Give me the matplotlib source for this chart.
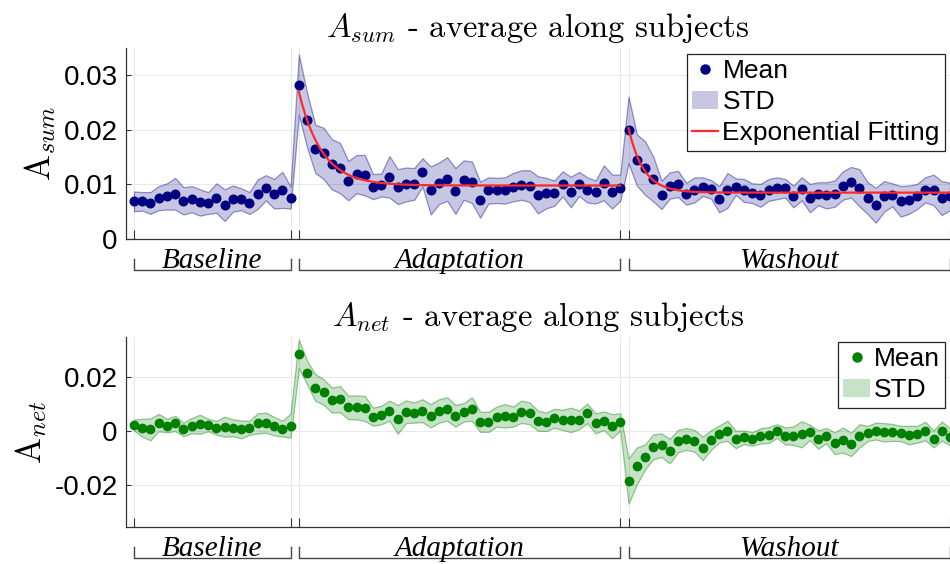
import numpy as np
import matplotlib
matplotlib.use("Agg")
import matplotlib.pyplot as plt
import matplotlib.transforms as mtransforms
from matplotlib.patches import Patch
from matplotlib.lines import Line2D

plt.rcParams['mathtext.fontset'] = 'cm'
plt.rcParams['axes.unicode_minus'] = False
plt.rcParams['font.family'] = ['Liberation Sans', 'DejaVu Sans']

# --- Data ---------------------------------------------------------------------
sections = ["Baseline", "Adaptation", "Washout"]
section_len = [20, 40, 40]

asum_mean = [
    # baseline
    0.0069, 0.0069, 0.0066, 0.0075, 0.0078, 0.0083, 0.0070, 0.0073, 0.0067, 0.0066,
    0.0075, 0.0062, 0.0074, 0.0073, 0.0066, 0.0082, 0.0094, 0.0083, 0.0090, 0.0076,
    # adaptation
    0.0283, 0.0218, 0.0165, 0.0157, 0.0137, 0.0130, 0.0107, 0.0119, 0.0117, 0.0096,
    0.0099, 0.0114, 0.0096, 0.0100, 0.0101, 0.0122, 0.0089, 0.0102, 0.0110, 0.0088,
    0.0108, 0.0104, 0.0072, 0.0089, 0.0089, 0.0089, 0.0095, 0.0099, 0.0097, 0.0081,
    0.0084, 0.0084, 0.0101, 0.0086, 0.0101, 0.0090, 0.0086, 0.0103, 0.0087, 0.0094,
    # washout
    0.0200, 0.0145, 0.0130, 0.0110, 0.0081, 0.0098, 0.0101, 0.0083, 0.0090, 0.0096,
    0.0091, 0.0073, 0.0089, 0.0096, 0.0089, 0.0084, 0.0080, 0.0090, 0.0093, 0.0093,
    0.0078, 0.0092, 0.0075, 0.0083, 0.0080, 0.0083, 0.0098, 0.0104, 0.0094, 0.0075,
    0.0062, 0.0078, 0.0081, 0.0069, 0.0072, 0.0078, 0.0090, 0.0090, 0.0075, 0.0078,
]
asum_std = [
    0.0018, 0.0017, 0.0020, 0.0022, 0.0024, 0.0029, 0.0025, 0.0024, 0.0024, 0.0020,
    0.0027, 0.0029, 0.0024, 0.0020, 0.0020, 0.0027, 0.0023, 0.0027, 0.0033, 0.0020,
    0.0055, 0.0050, 0.0044, 0.0047, 0.0046, 0.0046, 0.0036, 0.0035, 0.0037, 0.0023,
    0.0021, 0.0038, 0.0032, 0.0031, 0.0029, 0.0026, 0.0044, 0.0038, 0.0040, 0.0042,
    0.0036, 0.0038, 0.0033, 0.0024, 0.0023, 0.0024, 0.0026, 0.0027, 0.0029, 0.0034,
    0.0028, 0.0023, 0.0023, 0.0028, 0.0022, 0.0023, 0.0021, 0.0032, 0.0031, 0.0024,
    0.0061, 0.0047, 0.0049, 0.0041, 0.0026, 0.0024, 0.0024, 0.0020, 0.0023, 0.0017,
    0.0017, 0.0024, 0.0032, 0.0015, 0.0021, 0.0018, 0.0021, 0.0020, 0.0020, 0.0017,
    0.0020, 0.0021, 0.0026, 0.0021, 0.0024, 0.0024, 0.0026, 0.0028, 0.0034, 0.0029,
    0.0032, 0.0028, 0.0021, 0.0028, 0.0026, 0.0023, 0.0023, 0.0028, 0.0031, 0.0025,
]

anet_mean = [
    0.0022, 0.0012, 0.0006, 0.0031, 0.0020, 0.0028, 0.0006, 0.0020, 0.0025, 0.0022,
    0.0012, 0.0016, 0.0012, 0.0006, 0.0012, 0.0028, 0.0031, 0.0018, 0.0009, 0.0020,
    0.0284, 0.0215, 0.0160, 0.0144, 0.0114, 0.0117, 0.0087, 0.0087, 0.0083, 0.0053,
    0.0059, 0.0075, 0.0043, 0.0071, 0.0068, 0.0075, 0.0056, 0.0074, 0.0081, 0.0056,
    0.0069, 0.0081, 0.0034, 0.0034, 0.0053, 0.0056, 0.0053, 0.0071, 0.0065, 0.0038,
    0.0034, 0.0047, 0.0041, 0.0041, 0.0041, 0.0065, 0.0028, 0.0038, 0.0018, 0.0034,
    -0.0184, -0.0129, -0.0095, -0.0058, -0.0052, -0.0074, -0.0037, -0.0029, -0.0036, -0.0064,
    -0.0033, -0.0011, 0.0001, -0.0031, -0.0023, -0.0029, -0.0018, -0.0015, 0.0000, -0.0018,
    -0.0017, -0.0012, -0.0005, -0.0031, -0.0017, -0.0045, -0.0033, -0.0049, -0.0018, -0.0009,
    0.0000, -0.0005, -0.0005, -0.0009, -0.0015, -0.0012, 0.0000, -0.0029, 0.0000, -0.0021,
]
anet_std = [
    0.0020, 0.0033, 0.0040, 0.0032, 0.0025, 0.0028, 0.0025, 0.0028, 0.0035, 0.0023,
    0.0025, 0.0037, 0.0031, 0.0033, 0.0026, 0.0037, 0.0037, 0.0034, 0.0029, 0.0044,
    0.0053, 0.0043, 0.0049, 0.0047, 0.0046, 0.0048, 0.0043, 0.0044, 0.0046, 0.0033,
    0.0034, 0.0037, 0.0053, 0.0042, 0.0037, 0.0042, 0.0043, 0.0043, 0.0043, 0.0040,
    0.0034, 0.0043, 0.0037, 0.0037, 0.0037, 0.0043, 0.0037, 0.0041, 0.0040, 0.0037,
    0.0034, 0.0035, 0.0037, 0.0045, 0.0034, 0.0036, 0.0037, 0.0034, 0.0044, 0.0031,
    0.0083, 0.0068, 0.0046, 0.0046, 0.0043, 0.0045, 0.0041, 0.0040, 0.0040, 0.0043,
    0.0036, 0.0031, 0.0037, 0.0032, 0.0025, 0.0025, 0.0028, 0.0029, 0.0025, 0.0031,
    0.0034, 0.0048, 0.0028, 0.0034, 0.0028, 0.0040, 0.0046, 0.0043, 0.0043, 0.0028,
    0.0031, 0.0034, 0.0031, 0.0028, 0.0034, 0.0031, 0.0034, 0.0031, 0.0035, 0.0031,
]

# exponential fit parameters (plateau, amplitude, rate per trial) for adaptation / washout
fit_adapt = (0.0098, 0.0172, 0.36)
fit_wash = (0.0085, 0.0118, 0.55)

asum_yticks = [0, 0.01, 0.02, 0.03]
anet_yticks = [-0.02, 0, 0.02]

# --- Helpers ------------------------------------------------------------------
trial = np.arange(1, sum(section_len) + 1)
starts = np.cumsum([0] + section_len[:-1]) + 1
ends = np.cumsum(section_len)


def style_axes(ax, yticks, ylim):
    ax.set_xlim(0.03, 99.7)
    ax.set_ylim(*ylim)
    xt = []
    for s, e in zip(starts, ends):
        xt += [s, e]
    ax.set_xticks(xt)
    ax.set_xticklabels([])
    ax.set_yticks(yticks)
    ax.set_yticklabels([f"{v:g}" for v in yticks])
    ax.tick_params(axis='x', direction='in', length=6.5, width=0.8, color='#333333')
    ax.tick_params(axis='y', direction='in', length=3.5, width=0.8, color='#333333',
                   labelsize=20, pad=6)
    ax.grid(True, color='#e8e8e8', linewidth=0.7)
    ax.set_axisbelow(True)
    for sp in ['top', 'right']:
        ax.spines[sp].set_visible(False)
    for sp in ['left', 'bottom']:
        ax.spines[sp].set_color('#333333')
        ax.spines[sp].set_linewidth(0.9)

    # section brackets below the axis
    trans = mtransforms.blended_transform_factory(ax.transData, ax.transAxes)
    for name, s, e in zip(sections, starts, ends):
        ax.plot([s, s, e, e], [-0.105, -0.163, -0.163, -0.105], transform=trans,
                color='#444444', linewidth=1.0, clip_on=False)
        ax.text((s + e) / 2, -0.152, name, transform=trans, ha='center', va='baseline',
                fontsize=21, fontfamily='Liberation Serif', fontstyle='italic')


def exp_fit(params, n):
    plateau, amp, rate = params
    return plateau + amp * np.exp(-rate * n)


fig = plt.figure(figsize=(9.5, 5.64), dpi=100)
ax1 = fig.add_axes([0.1326, 0.5762, 0.8674, 0.3387])
ax2 = fig.add_axes([0.1326, 0.0661, 0.8674, 0.3364])

# --- Top: A_sum -----------------------------------------------------------------
m1 = np.array(asum_mean)
s1 = np.array(asum_std)
ax1.fill_between(trial, m1 - s1, m1 + s1, facecolor=(0, 0, 0.5, 0.22),
                 edgecolor=(0, 0, 0.5, 0.4), linewidth=0.9)
ax1.plot(trial, m1, 'o', color='#000080', markersize=6.2, zorder=3)

for params, i in [(fit_adapt, 1), (fit_wash, 2)]:
    n = np.linspace(0, section_len[i] - 1, 200)
    ax1.plot(starts[i] + n, exp_fit(params, n), color='#ff2a2a', linewidth=1.6, zorder=4)

style_axes(ax1, asum_yticks, (0, 0.035))
ax1.set_title(r'$A_{sum}$ - average along subjects', fontfamily='cmr10', fontsize=23.5, pad=8)
ax1.set_ylabel(r'$\mathrm{A}_{sum}$', fontsize=25, labelpad=4)

h1 = [Line2D([], [], marker='o', linestyle='none', color='#000080', markersize=6.5),
      Patch(facecolor=(0, 0, 0.5, 0.22), edgecolor='none'),
      Line2D([], [], color='#ff2a2a', linewidth=1.6)]
leg1 = ax1.legend(h1, ['Mean', 'STD', 'Exponential Fitting'], loc='upper right',
                  bbox_to_anchor=(0.994, 0.97), borderaxespad=0, fontsize=19,
                  frameon=True, fancybox=False, framealpha=1, edgecolor='#222222',
                  handlelength=1.0, handletextpad=0.15, labelspacing=0.27,
                  borderpad=0.2)
leg1.get_frame().set_linewidth(0.9)

# --- Bottom: A_net --------------------------------------------------------------
m2 = np.array(anet_mean)
s2 = np.array(anet_std)
ax2.fill_between(trial, m2 - s2, m2 + s2, facecolor=(0, 0.5, 0, 0.22),
                 edgecolor=(0, 0.5, 0, 0.4), linewidth=0.9)
ax2.plot(trial, m2, 'o', color='#008000', markersize=6.0, zorder=3)

style_axes(ax2, anet_yticks, (-0.0352, 0.0346))
ax2.set_title(r'$A_{net}$ - average along subjects', fontfamily='cmr10', fontsize=23.5, pad=8)
ax2.set_ylabel(r'$\mathrm{A}_{net}$', fontsize=25, labelpad=4)

h2 = [Line2D([], [], marker='o', linestyle='none', color='#008000', markersize=6.5),
      Patch(facecolor=(0, 0.5, 0, 0.22), edgecolor='none')]
leg2 = ax2.legend(h2, ['Mean', 'STD'], loc='upper right',
                  bbox_to_anchor=(0.994, 0.974), borderaxespad=0, fontsize=19,
                  frameon=True, fancybox=False, framealpha=1, edgecolor='#222222',
                  handlelength=1.0, handletextpad=0.15, labelspacing=0.27,
                  borderpad=0.2)
leg2.get_frame().set_linewidth(0.9)

fig.savefig("out.png", dpi=100)
